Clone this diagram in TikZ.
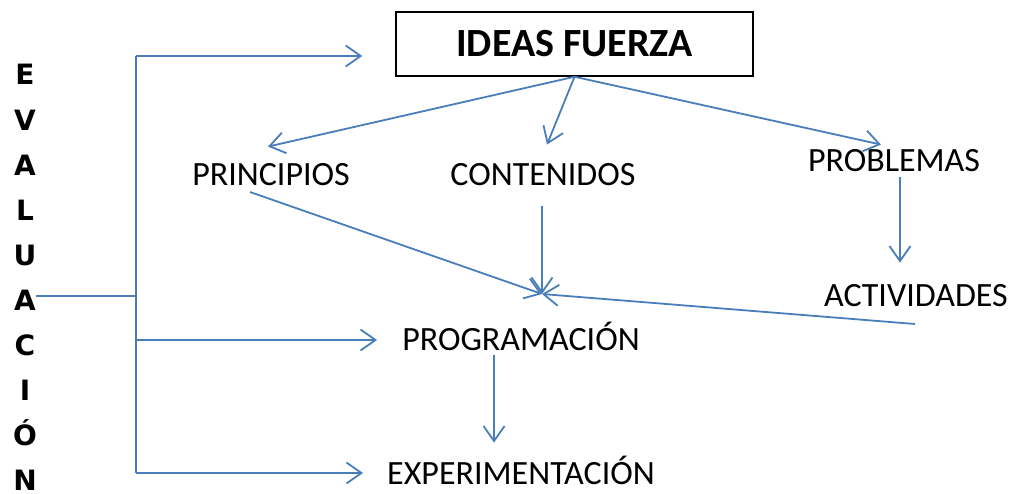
\documentclass[tikz,border=0pt]{standalone}
\usepackage{fontspec}
\setmainfont{Carlito}
\newfontfamily\evalfont{DejaVu Sans}
\usetikzlibrary{arrows.meta}
\definecolor{linkblue}{RGB}{74,126,187}
\tikzset{
  link/.style={draw=linkblue, line width=1.8pt},
  arr/.style={link, -{Straight Barb[length=15pt,width=21pt,line width=1.8pt]}},
  lbl/.style={inner sep=0pt, anchor=south, text height=22pt, text depth=0pt, font=\fontsize{34}{34}\selectfont},
  evl/.style={inner sep=0pt, font=\evalfont\bfseries\fontsize{28}{28}\selectfont},
  titlebox/.style={draw=black, line width=1.5pt, minimum width=357pt, minimum height=64pt, inner sep=0pt, font=\bfseries\fontsize{40}{40}\selectfont}
}
\begin{document}
\begin{tikzpicture}[x=1pt,y=-1pt]
\useasboundingbox (0,0) rectangle (1012,494);
% title
\node[titlebox] (ideas) at (574.5,44) {IDEAS FUERZA};
% labels
\node[lbl] (principios) at (271,186) {PRINCIPIOS};
\node[lbl] (contenidos) at (543,186) {CONTENIDOS};
\node[lbl] (problemas) at (894,172) {PROBLEMAS};
\node[lbl] (actividades) at (916,307) {ACTIVIDADES};
\node[lbl] (programacion) at (521,351) {PROGRAMACIÓN};
\node[lbl] (experimentacion) at (521,485) {EXPERIMENTACIÓN};
% vertical word
\foreach \l [count=\i from 0] in {E,V,A,L,U,A,C,I,Ó,N}{
  \node[evl, anchor=base] (ev\i) at (25,{85+45.1*\i}) {\l};
}
% coordinates
\coordinate (conv) at (542,294);
\coordinate (top) at (136,56);
\coordinate (mid) at (136,296);
\coordinate (progy) at (136,340);
\coordinate (bot) at (136,473);
% from IDEAS FUERZA
\draw[arr] (ideas.south) -- ([shift={(-3,-17)}]principios.north);
\draw[arr] (ideas.south) -- ([shift={(4,-19)}]contenidos.north);
\draw[arr] (ideas.south) -- ([shift={(-13,-5)}]problemas.north);
% into programming point
\draw[arr] ([shift={(-21,6)}]principios.south) -- (conv);
\draw[arr] ([shift={(-1,20)}]contenidos.south) -- (conv);
\draw[arr] ([shift={(-1,17)}]actividades.south) -- (conv);
% problems -> activities
\draw[arr] ([shift={(6,5)}]problemas.south) -- ([shift={(-16,-22)}]actividades.north);
% programming -> experimentation
\draw[arr] ([shift={(-27,4)}]programacion.south) -- ([shift={(-27,-20)}]experimentacion.north);
% evaluation bracket
\draw[link] (mid -| ev5.east) -- (mid);
\draw[link] (top) -- (bot);
\draw[arr, shorten >=33pt] (top) -- (top -| ideas.west);
\draw[arr, shorten >=25pt] (progy) -- (progy -| programacion.west);
\draw[arr, shorten >=24pt] (bot) -- (bot -| experimentacion.west);
\end{tikzpicture}
\end{document}
